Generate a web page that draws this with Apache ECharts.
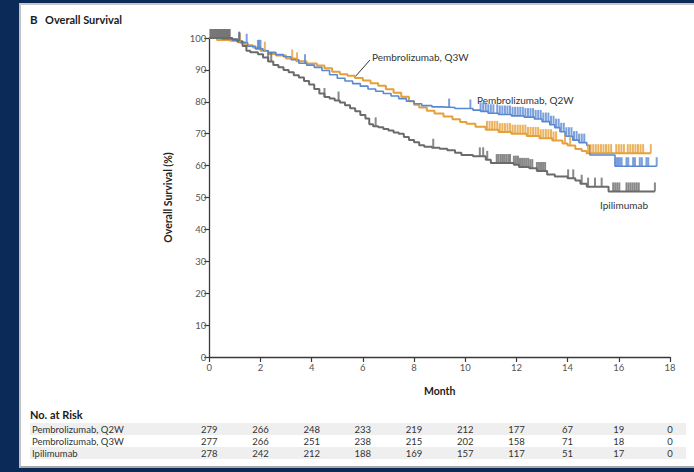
<!DOCTYPE html>
<html>
<head>
<meta charset="utf-8">
<script src="https://cdn.jsdelivr.net/npm/echarts@6/dist/echarts.min.js"></script>
<style>
html,body{margin:0;padding:0;background:#0c2a57;width:694px;height:472px;overflow:hidden;}
#panel{position:absolute;left:19px;top:3px;width:675px;height:465px;background:#fff;border-left:2px solid #c2c2c2;border-top:2px solid #c8c8c8;border-bottom:2px solid #a8a8a8;box-sizing:border-box;}
#chart{position:absolute;left:0;top:0;width:694px;height:472px;}
</style>
</head>
<body>
<div id="panel"></div>
<div id="chart"></div>
<script>
// ---------- DATA ----------
const xTicks = [0, 2, 4, 6, 8, 10, 12, 14, 16, 18];
const yTicks = [0, 10, 20, 30, 40, 50, 60, 70, 80, 90, 100];

// Kaplan-Meier step points [month, survival %]
const q2wCurve = [[0,100],[0.5,99.6],[0.9,99.2],[1.2,98.5],[1.5,97.4],[1.8,96.6],[2.1,96.0],[2.3,95.5],[2.6,94.8],[2.9,94.1],[3.2,93.2],[3.5,92.1],[3.8,91.5],[4.1,90.8],[4.4,89.8],[4.7,88.5],[5.0,87.4],[5.3,86.5],[5.6,85.7],[5.9,84.9],[6.2,84.0],[6.5,83.3],[6.8,82.6],[7.1,81.8],[7.4,81.0],[7.7,80.2],[8.0,79.4],[8.3,78.8],[8.7,78.4],[9.1,78.2],[9.6,77.9],[10.3,77.4],[10.6,77.0],[10.9,76.4],[11.3,76.0],[11.8,75.6],[12.3,75.2],[12.7,74.6],[13.0,73.8],[13.3,72.8],[13.5,71.9],[13.7,70.6],[13.9,69.2],[14.2,68.0],[14.45,67.2],[14.75,66.3],[14.87,63.3],[15.85,59.8],[17.48,59.8]];
const q3wCurve = [[0,100],[0.3,99.4],[0.8,99.1],[1.1,98.7],[1.4,97.7],[1.7,97.0],[2.0,96.0],[2.3,95.0],[2.6,94.5],[3.0,93.6],[3.4,92.7],[3.8,92.0],[4.2,91.4],[4.5,90.5],[4.8,89.4],[5.1,88.6],[5.4,88.2],[5.7,87.5],[6.0,86.7],[6.3,85.8],[6.6,85.0],[6.9,83.9],[7.2,82.8],[7.5,81.6],[7.8,80.2],[8.0,79.1],[8.2,78.2],[8.5,77.2],[8.8,76.3],[9.15,75.4],[9.5,74.5],[9.8,73.7],[10.05,73.1],[10.4,72.2],[10.8,71.2],[11.3,70.5],[11.8,70.0],[12.4,69.3],[12.9,68.6],[13.4,67.9],[13.8,66.9],[14.0,66.3],[14.3,65.2],[14.55,64.6],[14.74,63.9],[17.25,63.9]];
const ipiCurve = [[0,100],[0.9,99.6],[1.1,99.0],[1.3,97.5],[1.45,96.0],[1.6,95.5],[1.9,94.9],[2.1,93.9],[2.3,92.6],[2.5,91.5],[2.7,90.8],[2.9,90.0],[3.1,89.3],[3.3,88.3],[3.5,87.6],[3.7,86.5],[3.9,85.4],[4.1,84.0],[4.3,82.6],[4.5,81.5],[4.7,81.0],[4.9,80.4],[5.1,79.8],[5.3,78.9],[5.5,78.0],[5.7,77.0],[5.9,75.9],[6.1,74.8],[6.25,73.0],[6.4,72.3],[6.6,72.0],[6.8,71.5],[7.0,71.0],[7.2,70.4],[7.4,70.0],[7.6,69.0],[7.8,68.0],[8.0,67.3],[8.2,66.4],[8.4,65.9],[8.7,65.6],[9.0,65.3],[9.3,64.8],[9.6,64.0],[9.85,63.3],[10.3,62.9],[10.8,61.8],[11.0,60.8],[11.9,60.3],[12.1,59.6],[12.5,59.2],[12.8,58.3],[13.2,57.2],[13.5,56.6],[14.0,56.0],[14.3,55.3],[14.5,54.3],[14.75,53.4],[15.6,51.9],[17.41,51.9]];

// censoring times (months)
const q2wCensor = [1.17,1.46,1.9,1.95,2.0,3.74,9.37,10.2,10.6,10.7,10.8,10.9,11.0,11.1,11.25,11.35,11.45,11.55,11.65,11.75,11.85,11.95,12.05,12.15,12.25,12.35,12.45,12.55,12.65,12.75,12.85,12.95,13.05,13.15,13.25,13.35,13.45,13.55,13.65,13.75,13.85,13.95,14.05,14.15,14.25,14.35,14.45,14.55,14.65,15.9,15.97,16.04,16.11,16.3,16.37,16.56,16.63,16.82,16.9,17.08,17.15,17.48];
const q3wCensor = [1.2,2.17,3.24,3.43,10.85,10.95,11.05,11.15,11.25,11.35,11.45,11.55,11.65,11.75,11.85,11.95,12.05,12.15,12.25,12.35,12.45,12.55,12.65,12.75,12.85,12.95,13.05,13.15,13.25,13.35,13.45,13.55,13.9,14.1,14.8,14.9,15.0,15.1,15.2,15.3,15.4,15.5,15.6,15.7,15.9,16.0,16.1,16.2,16.35,16.45,16.55,16.65,16.75,16.85,16.95,17.25];
const ipiCensor = [0.04,0.08,0.12,0.16,0.2,0.24,0.28,0.32,0.36,0.4,0.44,0.48,0.52,0.56,0.6,0.64,0.68,0.72,0.76,0.8,1.17,2.3,2.42,4.5,5.05,6.5,8.75,10.57,10.7,10.86,11.23,11.3,11.38,11.45,11.52,11.6,11.68,11.75,11.9,11.98,12.06,12.14,12.22,12.3,12.38,12.46,12.54,12.62,12.8,12.88,12.96,13.04,13.12,14.02,14.22,14.55,14.8,15.07,15.33,15.78,15.86,15.94,16.02,16.3,16.38,16.46,16.54,16.62,16.7,16.78,17.41];

// Number at risk
const riskGroups = ['Pembrolizumab, Q2W', 'Pembrolizumab, Q3W', 'Ipilimumab'];
const riskQ2W = [279, 266, 248, 233, 219, 212, 177, 67, 19, 0];
const riskQ3W = [277, 266, 251, 238, 215, 202, 158, 71, 18, 0];
const riskIpi = [278, 242, 212, 188, 169, 157, 117, 51, 17, 0];

// ---------- STYLE ----------
const C_Q2W = '#5a88d2', C_Q3W = '#e5a03a', C_IPI = '#6b6b6b';
const FONT = 'Lato, "Open Sans", sans-serif';

function levelAt(curve, t) {
  let v = curve[0][1];
  for (const p of curve) { if (p[0] <= t) v = p[1]; else break; }
  return v;
}
const censorPts = (curve, times) => times.map(t => [t, levelAt(curve, t)]);

const chart = echarts.init(document.getElementById('chart'), null, {renderer: 'svg'});

function lineSeries(name, data, color, w) {
  return {name, type: 'line', step: 'end', data, showSymbol: false, symbol: 'none',
    lineStyle: {color, width: w}, silent: true, animation: false, z: 3};
}
function censorSeries(name, data, color) {
  return {name: name + ' censored', type: 'scatter', data, symbol: 'rect',
    symbolSize: [2, 9], symbolOffset: [0, '-50%'], itemStyle: {color}, silent: true, animation: false, z: 4};
}

chart.setOption({
  animation: false,
  backgroundColor: 'transparent',
  grid: {left: 209.3, right: 24, top: 38, bottom: 115, containLabel: false},
  xAxis: {
    type: 'value', min: 0, max: 18, interval: 2,
    name: 'Month', nameLocation: 'middle', nameGap: 28,
    nameTextStyle: {fontFamily: FONT, fontWeight: 'bold', fontSize: 10.5, color: '#222'},
    axisLine: {lineStyle: {color: '#3a3a3a', width: 1.3}},
    axisTick: {inside: false, length: 5, lineStyle: {color: '#3a3a3a', width: 1.2}},
    axisLabel: {fontFamily: FONT, fontSize: 9.5, color: '#555', margin: 5},
    splitLine: {show: false}
  },
  yAxis: {
    type: 'value', min: 0, max: 100, interval: 10,
    name: 'Overall Survival (%)', nameLocation: 'middle', nameGap: 36, nameRotate: 90,
    nameTextStyle: {fontFamily: FONT, fontWeight: 'bold', fontSize: 10.5, color: '#222'},
    axisLine: {show: true, lineStyle: {color: '#3a3a3a', width: 1.3}},
    axisTick: {show: true, inside: false, length: 5, lineStyle: {color: '#3a3a3a', width: 1.2}},
    axisLabel: {fontFamily: FONT, fontSize: 9.5, color: '#555', margin: 3},
    splitLine: {show: false}
  },
  series: [
    lineSeries('Pembrolizumab, Q3W', q3wCurve, C_Q3W, 2),
    lineSeries('Pembrolizumab, Q2W', q2wCurve, C_Q2W, 1.6),
    lineSeries('Ipilimumab', ipiCurve, C_IPI, 2),
    censorSeries('Pembrolizumab, Q3W', censorPts(q3wCurve, q3wCensor), C_Q3W),
    censorSeries('Pembrolizumab, Q2W', censorPts(q2wCurve, q2wCensor), C_Q2W),
    censorSeries('Ipilimumab', censorPts(ipiCurve, ipiCensor), C_IPI)
  ]
});

// ---------- texts / table ----------
const g = [];
const txt = (x, y, text, opts) => g.push({type: 'text', x, y, silent: true,
  style: Object.assign({text, fontFamily: FONT, fontSize: 10, fill: '#333', textVerticalAlign: 'middle'}, opts || {})});

txt(30, 19, 'B', {fontWeight: 'bold', fontSize: 11.5, fill: '#1a1a1a'});
txt(45, 19, 'Overall Survival', {fontWeight: 'bold', fontSize: 11, fill: '#1a1a1a'});

txt(372, 57, 'Pembrolizumab, Q3W', {fontSize: 10, fill: '#333'});
g.push({type: 'line', silent: true, shape: {x1: 370, y1: 60, x2: 354, y2: 78}, style: {stroke: '#333', lineWidth: 1}});
txt(477, 100, 'Pembrolizumab, Q2W', {fontSize: 10, fill: '#333'});
txt(600, 205, 'Ipilimumab', {fontSize: 10, fill: '#333'});

txt(30, 414, 'No. at Risk', {fontWeight: 'bold', fontSize: 11, fill: '#1a1a1a'});
const rowY = [429, 441, 453];
g.push({type: 'rect', silent: true, shape: {x: 30, y: 423, width: 656, height: 12}, style: {fill: '#efefef'}, z: -1});
g.push({type: 'rect', silent: true, shape: {x: 30, y: 447, width: 656, height: 12}, style: {fill: '#efefef'}, z: -1});
const riskRows = [riskQ2W, riskQ3W, riskIpi];
riskGroups.forEach((name, i) => {
  txt(32, rowY[i], name, {fontSize: 9.5, fill: '#333'});
  riskRows[i].forEach((v, j) => {
    const px = chart.convertToPixel({xAxisIndex: 0}, xTicks[j]);
    txt(px, rowY[i], String(v), {fontSize: 9.5, fill: '#333', textAlign: 'center'});
  });
});

chart.setOption({graphic: g});
</script>
</body>
</html>
